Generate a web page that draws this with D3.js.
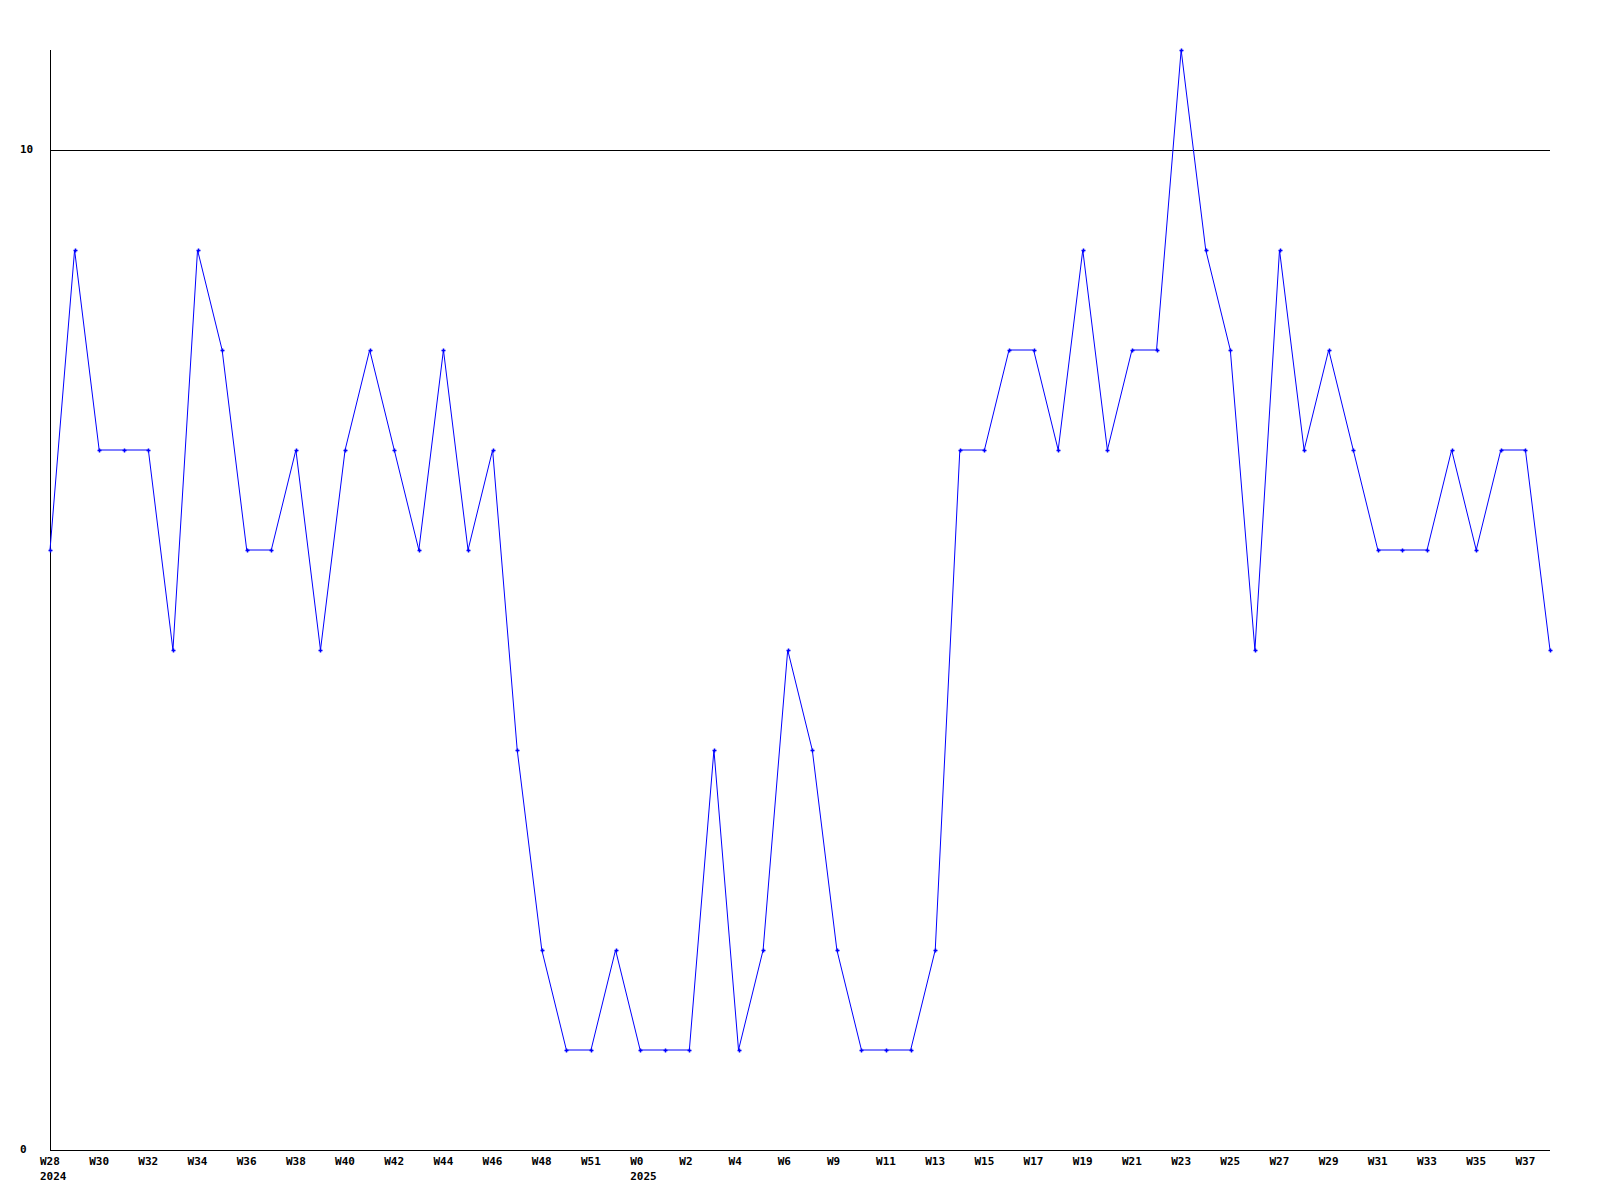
<!DOCTYPE html>
<html>
<head>
<meta charset="utf-8">
<script src="https://cdn.jsdelivr.net/npm/d3@7"></script>
<style>
  html, body { margin: 0; padding: 0; background: #fff; }
  text { font-family: "DejaVu Sans Mono", monospace; font-weight: bold; font-size: 11px; fill: #000; }
</style>
</head>
<body>
<svg id="chart" width="1600" height="1200"></svg>
<script>
const values = [6,9,7,7,7,5,9,8,6,6,7,5,7,8,7,6,8,6,7,4,2,1,1,2,1,1,1,4,1,2,5,4,2,1,1,1,2,7,7,8,8,7,9,7,8,8,11,9,8,5,9,7,8,7,6,6,6,7,6,7,7,5];
const tickLabels = ["W28","W30","W32","W34","W36","W38","W40","W42","W44","W46","W48","W51","W0","W2","W4","W6","W9","W11","W13","W15","W17","W19","W21","W23","W25","W27","W29","W31","W33","W35","W37"];
const yearLabels = [{index: 0, label: "2024"}, {index: 24, label: "2025"}];
const yTicks = [0, 10];

const svg = d3.select("#chart");
const pLeft = 50, pRight = 1550, pTop = 50, pBottom = 1150;

const x = d3.scaleLinear().domain([0, values.length - 1]).range([pLeft, pRight]);
const y = d3.scaleLinear().domain([0, 11]).range([pBottom, pTop]);

// grid line(s) at ticks other than 0
svg.selectAll("line.grid").data(yTicks.filter(d => d !== 0)).join("line")
  .attr("x1", pLeft).attr("x2", pRight)
  .attr("y1", d => Math.round(y(d)) + 0.5).attr("y2", d => Math.round(y(d)) + 0.5)
  .attr("stroke", "#000").attr("stroke-width", 1).attr("shape-rendering", "crispEdges");

// axes
svg.append("line").attr("x1", pLeft + 0.5).attr("x2", pLeft + 0.5).attr("y1", pTop).attr("y2", pBottom + 0.5)
  .attr("stroke", "#000").attr("shape-rendering", "crispEdges");
svg.append("line").attr("x1", pLeft).attr("x2", pRight).attr("y1", pBottom + 0.5).attr("y2", pBottom + 0.5)
  .attr("stroke", "#000").attr("shape-rendering", "crispEdges");

// y labels
svg.selectAll("text.ylab").data(yTicks).join("text")
  .attr("x", 20).attr("y", d => y(d)).attr("dominant-baseline", "middle")
  .text(d => d);

// x labels
svg.selectAll("text.xlab").data(tickLabels).join("text")
  .attr("x", (d, i) => x(i * 2) - 10).attr("y", 1162).attr("dominant-baseline", "middle")
  .text(d => d);
svg.selectAll("text.year").data(yearLabels).join("text")
  .attr("x", d => x(d.index) - 10).attr("y", 1177).attr("dominant-baseline", "middle")
  .text(d => d.label);

// series line
const line = d3.line().x((d, i) => x(i)).y(d => y(d));
svg.append("path").datum(values).attr("d", line)
  .attr("fill", "none").attr("stroke", "#0000ff").attr("stroke-width", 1);

// markers
svg.selectAll("path.mk").data(values).join("path")
  .attr("d", (d, i) => {
    const cx = Math.round(x(i)) + 0.5, cy = Math.round(y(d)) + 0.5;
    return `M${cx-2},${cy}H${cx+2}M${cx},${cy-2}V${cy+2}`;
  })
  .attr("stroke", "#0000ff").attr("stroke-width", 1.5).attr("fill", "none");
</script>
</body>
</html>
